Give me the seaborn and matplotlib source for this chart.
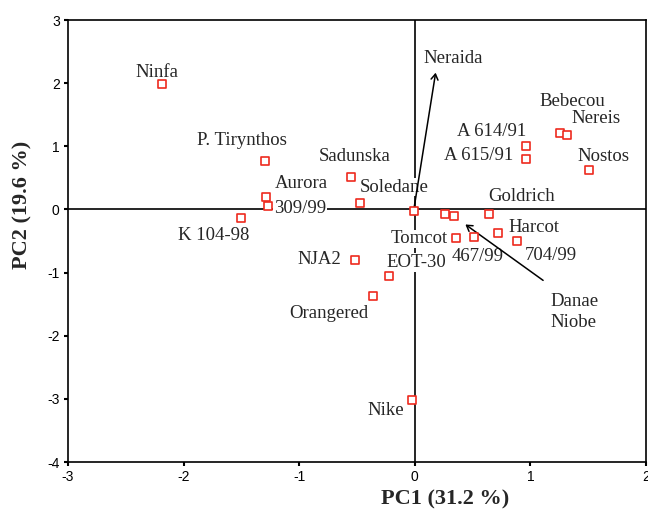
import matplotlib
matplotlib.use("Agg")
import matplotlib.pyplot as plt
import seaborn as sns
import pandas as pd

# ---- data ----
cultivars = ["Ninfa", "P. Tirynthos", "Aurora", "309/99", "K 104-98", "Sadunska",
             "Soledane", "Neraida", "Danae", "Niobe", "Goldrich", "Harcot", "704/99",
             "Tomcot", "467/99", "NJA2", "EOT-30", "Orangered", "Nike", "A 614/91",
             "A 615/91", "Bebecou", "Nereis", "Nostos"]
pc1 = [-2.19, -1.30, -1.29, -1.27, -1.50, -0.55, -0.47, -0.01, 0.26, 0.34, 0.64, 0.72,
       0.885, 0.36, 0.51, -0.52, -0.22, -0.36, -0.02, 0.96, 0.96, 1.26, 1.32, 1.51]
pc2 = [1.98, 0.77, 0.195, 0.05, -0.13, 0.51, 0.10, -0.02, -0.08, -0.11, -0.07, -0.37,
       -0.50, -0.45, -0.43, -0.80, -1.06, -1.37, -3.02, 1.00, 0.80, 1.21, 1.18, 0.63]
x_ticks = [-3, -2, -1, 0, 1, 2]
y_ticks = [-4, -3, -2, -1, 0, 1, 2, 3]
x_label = "PC1 (31.2 %)"
y_label = "PC2 (19.6 %)"
arrow_label = "Danae\nNiobe"

df = pd.DataFrame({"name": cultivars, "PC1": pc1, "PC2": pc2})

# label placement (offset in pixels from the point, label centre)
label_offsets = {
    "Ninfa": (-5, 12), "P. Tirynthos": (-23, 20), "Aurora": (36, 14),
    "309/99": (32, -2), "K 104-98": (-28, -18), "Sadunska": (3, 21),
    "Soledane": (34, 16), "Goldrich": (33, 17), "Harcot": (36, 5),
    "704/99": (34, -15), "Tomcot": (-37, -1), "467/99": (4, -20),
    "NJA2": (-35, 0), "EOT-30": (27, 14), "Orangered": (-44, -18),
    "Nike": (-27, -10), "A 614/91": (-34, 15), "A 615/91": (-47, 3),
    "Bebecou": (12, 32), "Nereis": (29, 16), "Nostos": (14, 13),
}

sns.set_style("white")
plt.rcParams["font.family"] = ["Liberation Serif", "DejaVu Serif"]

fig = plt.figure(figsize=(6.48, 5.23), dpi=100)
ax = fig.add_axes([68 / 648, 1 - 462 / 523, 578 / 648, 442 / 523])

ax.axhline(0, color="black", lw=1.2, zorder=1)
ax.axvline(0, color="black", lw=1.2, zorder=1)

sns.scatterplot(data=df, x="PC1", y="PC2", ax=ax, marker="s", s=26,
                facecolor="white", edgecolor="#ee2a1e", linewidth=1.2, zorder=5,
                legend=False)

lab_font = dict(fontsize=13.5, family=["Liberation Serif"])
box = dict(facecolor="white", edgecolor="none", pad=0.5)
for _, r in df.iterrows():
    if r["name"] in label_offsets:
        dx, dy = label_offsets[r["name"]]
        ax.annotate(r["name"], xy=(r["PC1"], r["PC2"]), xytext=(dx, dy),
                    textcoords="offset pixels", ha="center", va="center",
                    bbox=box, zorder=2, **lab_font)

# Neraida: arrow from the point up to its label
ner = df[df["name"] == "Neraida"].iloc[0]
ax.annotate("", xy=(ner["PC1"], ner["PC2"]), xytext=(22, 138),
            textcoords="offset pixels",
            arrowprops=dict(arrowstyle="<-,head_length=0.4,head_width=0.25",
                            color="black", lw=1.1, shrinkA=0, shrinkB=0), zorder=3)
ax.annotate("Neraida", xy=(ner["PC1"], ner["PC2"]), xytext=(40, 152),
            textcoords="offset pixels", ha="center", va="center", zorder=2, **lab_font)

# Danae / Niobe: arrow from label to the points
nio = df[df["name"] == "Niobe"].iloc[0]
ax.annotate("", xy=(nio["PC1"], nio["PC2"]), xytext=(89, -64),
            textcoords="offset pixels",
            arrowprops=dict(arrowstyle="->,head_length=0.4,head_width=0.25",
                            color="black", lw=1.1, shrinkA=0, shrinkB=10), zorder=3)
ax.annotate(arrow_label, xy=(nio["PC1"], nio["PC2"]), xytext=(96, -96),
            textcoords="offset pixels", ha="left", va="center",
            linespacing=1.3, zorder=2, **lab_font)

ax.set_xlim(-3, 2)
ax.set_ylim(-4, 3)
ax.set_xticks(x_ticks)
ax.set_yticks(y_ticks)
ax.set_xticklabels([str(t) for t in x_ticks], family="Liberation Sans", fontsize=10)
ax.set_yticklabels([str(t) for t in y_ticks], family="Liberation Sans", fontsize=10)
ax.tick_params(direction="out", length=3, width=1.5, pad=3, colors="black",
               bottom=True, left=True)
for s in ax.spines.values():
    s.set_color("black")
    s.set_linewidth(1.2)

ax.set_xlabel(x_label, fontsize=16, fontweight="bold")
ax.set_ylabel(y_label, fontsize=16, fontweight="bold")
ax.xaxis.set_label_coords(0.652, -0.062)
ax.yaxis.set_label_coords(-0.062, 0.581)

fig.savefig("out.png", dpi=100, facecolor="white")
